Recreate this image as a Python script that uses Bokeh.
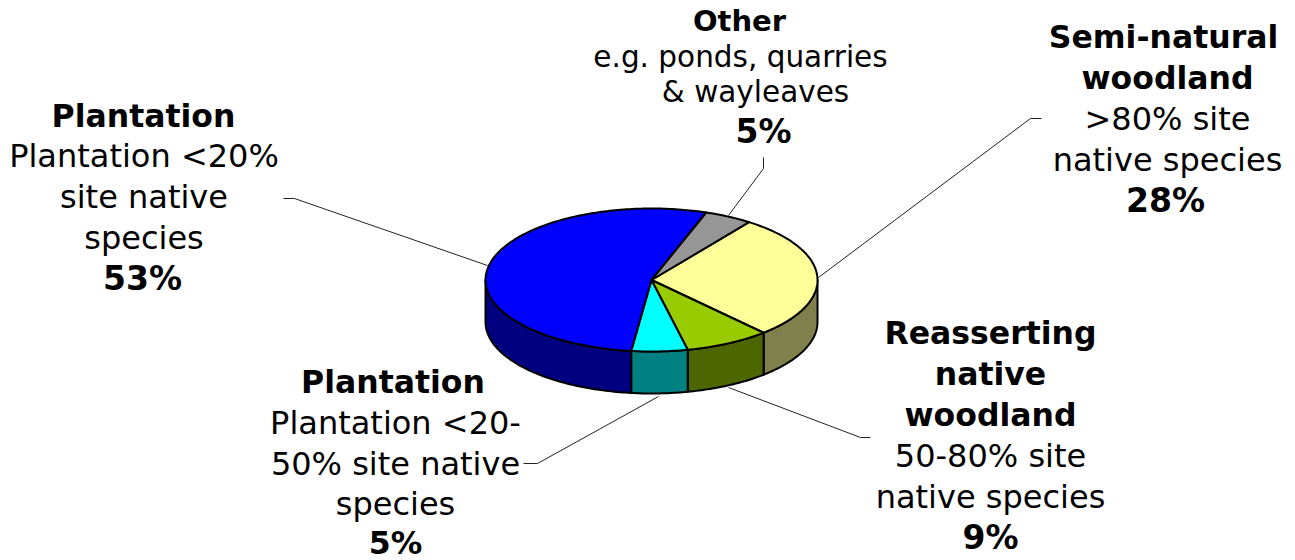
import math
from bokeh.plotting import figure
from bokeh.models import Range1d
from bokeh.core.properties import value
from bokeh.embed import file_html
from bokeh.resources import INLINE

# Data: shares of the pie; labels carry the printed figures
slices = ["Semi-natural woodland", "Reasserting native woodland",
          "Plantation 20-50%", "Plantation <20%", "Other"]
share = [28.2, 8.3, 5.45, 53.4, 4.65]
top_colors = ["#FFFF99", "#99CC00", "#00FFFF", "#0000FF", "#969696"]
side_colors = ["#80804D", "#4D6600", "#008080", "#000080", "#4B4B4B"]
first_angle = 36

# Pie geometry, in page pixels
CX, CY, RX, RY, DEPTH = 651, 279.5, 166, 71.5, 42

W, H = 1295, 560
p = figure(width=W, height=H, output_backend="svg", toolbar_location=None,
           x_range=Range1d(0, W), y_range=Range1d(H, 0),
           min_border=0, min_border_left=0, min_border_right=0,
           min_border_top=0, min_border_bottom=0)
p.axis.visible = False
p.grid.visible = False
p.outline_line_color = None
p.background_fill_color = "white"
p.border_fill_color = "white"


def rim(a, dy=0.0):
    r = math.radians(a)
    return CX + RX * math.sin(r), CY - RY * math.cos(r) + dy


def arc(a0, a1, dy=0.0):
    n = max(2, int(abs(a1 - a0)) + 1)
    return [rim(a0 + (a1 - a0) * i / n, dy) for i in range(n + 1)]


# Leader lines (drawn beneath the pie)
leaders = [
    ([283, 294, 487], [198, 198, 265]),
    ([763, 763, 728], [157, 168, 215]),
    ([1041, 1030, 818], [118, 118, 277]),
    ([870, 860, 728], [437, 437, 387]),
    ([523, 537, 658], [463, 463, 396]),
]
for lx, ly in leaders:
    p.line(lx, ly, line_color="#222222", line_width=1)

# Angular spans of slices
spans = []
a = first_angle
for v in share:
    b = a + v * 3.6
    spans.append((a, b))
    a = b

# Side faces: only the front half (90..270 clockwise from top) is visible
for (a0, a1), col in zip(spans, side_colors):
    for shift in (0, 360):
        s0, s1 = max(a0, 90 + shift), min(a1, 270 + shift)
        if s1 > s0:
            pts = arc(s0, s1) + arc(s1, s0, DEPTH)
            p.patch([q[0] for q in pts], [q[1] for q in pts], fill_color=col,
                    line_color="black", line_width=2, line_join="round")

# Top faces
for (a0, a1), col in zip(spans, top_colors):
    pts = [(CX, CY)] + arc(a0, a1)
    p.patch([q[0] for q in pts], [q[1] for q in pts], fill_color=col,
            line_color="black", line_width=2, line_join="round")

# Labels: text, centre x, baseline y, bold, size in px
REG, BOLD, PCT = 32, 31.5, 33
label_rows = [
    ("Plantation", 143, 127, True, BOLD),
    ("Plantation <20%", 143.5, 167, False, REG),
    ("site native", 143.5, 208, False, REG),
    ("species", 143.5, 249, False, REG),
    ("53%", 142, 290, True, PCT),
    ("Other", 739, 31, True, 29),
    ("e.g. ponds, quarries", 740, 67, False, 29.5),
    ("& wayleaves", 755, 102, False, 29.5),
    ("5%", 763, 143, True, PCT),
    ("Semi-natural", 1163, 48, True, BOLD),
    ("woodland", 1167, 89, True, BOLD),
    (">80% site", 1167, 130, False, REG),
    ("native species", 1167, 171, False, REG),
    ("28%", 1165, 212, True, PCT),
    ("Plantation", 392.5, 393, True, BOLD),
    ("Plantation <20-", 395, 434, False, REG),
    ("50% site native", 395, 475, False, REG),
    ("species", 395, 515, False, REG),
    ("5%", 395, 554, True, 31.5),
    ("Reasserting", 990, 344, True, BOLD),
    ("native", 990, 385, True, BOLD),
    ("woodland", 990, 426, True, BOLD),
    ("50-80% site", 990, 467, False, REG),
    ("native species", 990, 508, False, REG),
    ("9%", 990, 549, True, PCT),
]
for t, x, y, bold, size in label_rows:
    p.text([x], [y - 0.37 * size], text=[t], text_font=value("DejaVu Sans"),
           text_font_size=f"{size}px", text_font_style="bold" if bold else "normal",
           text_align="center", text_baseline="alphabetic", text_color="black")

open("out.html", "w").write(file_html(p, INLINE))
